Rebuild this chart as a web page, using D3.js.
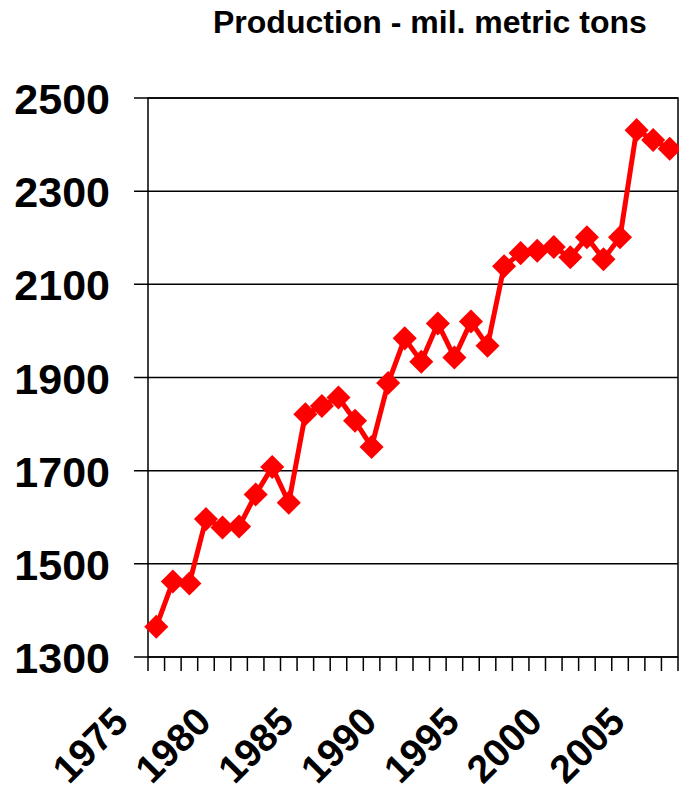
<!DOCTYPE html>
<html lang="en">
<head>
<meta charset="utf-8">
<title>Production - mil. metric tons</title>
<script type="text/javascript" src="https://cdnjs.cloudflare.com/ajax/libs/d3/7.8.5/d3.min.js"></script>
<style>
body { margin: 0; background: #fff; }
text { font-family: "Liberation Sans", Arial, sans-serif; font-weight: bold; fill: #000; }
.grid line { stroke: #000; stroke-width: 1.5; }
.frame { fill: none; stroke: #000; stroke-width: 1.5; }
</style>
</head>
<body>
<div id="chart"></div>
<script type="text/javascript">

var years = [1975, 1976, 1977, 1978, 1979, 1980, 1981, 1982, 1983, 1984,
             1985, 1986, 1987, 1988, 1989, 1990, 1991, 1992, 1993, 1994,
             1995, 1996, 1997, 1998, 1999, 2000, 2001, 2002, 2003, 2004,
             2005, 2006];

var production = [1365, 1462, 1458, 1596, 1578, 1580, 1649, 1708, 1631, 1821,
                  1839, 1857, 1807, 1751, 1888, 1984, 1934, 2016, 1943, 2020,
                  1968, 2139, 2167, 2172, 2180, 2158, 2201, 2154, 2201, 2431,
                  2410, 2391];

var yTicks = [1300, 1500, 1700, 1900, 2100, 2300, 2500];
var xLabels = [1975, 1980, 1985, 1990, 1995, 2000, 2005];

var title = "Production - mil. metric tons";

var width = 679, height = 797;
var plot = {left: 148, right: 678, top: 98, bottom: 657};

var svg = d3.select("#chart").append("svg")
    .attr("width", width)
    .attr("height", height);

var x = d3.scaleBand().domain(years).range([plot.left, plot.right]);
var y = d3.scaleLinear().domain([1300, 2500]).range([plot.bottom, plot.top]);

// gridlines + y ticks
var grid = svg.append("g").attr("class", "grid");
grid.selectAll(".h")
    .data(yTicks)
    .enter().append("line")
        .attr("x1", plot.left - 14)
        .attr("x2", plot.right)
        .attr("y1", d => y(d))
        .attr("y2", d => y(d));

// x ticks at category boundaries
var bounds = years.map(d => x(d)).concat([plot.right]);
grid.selectAll(".v")
    .data(bounds)
    .enter().append("line")
        .attr("x1", d => d)
        .attr("x2", d => d)
        .attr("y1", plot.bottom)
        .attr("y2", plot.bottom + 14);

// frame
svg.append("rect")
    .attr("class", "frame")
    .attr("x", plot.left)
    .attr("y", plot.top)
    .attr("width", plot.right - plot.left)
    .attr("height", plot.bottom - plot.top);

// y labels
svg.append("g").selectAll("text")
    .data(yTicks)
    .enter().append("text")
        .attr("x", 110)
        .attr("y", d => y(d) + 16)
        .style("font-size", "43px")
        .style("text-anchor", "end")
        .text(d => d);

// x labels, rotated
var bw = x.bandwidth();
svg.append("g").selectAll("text")
    .data(xLabels)
    .enter().append("text")
        .attr("transform", d => "translate(" + (x(d) + bw / 2 - 26) + "," + 724 + ") rotate(-45)")
        .style("font-size", "39px")
        .style("text-anchor", "end")
        .text(d => d);

// title
svg.append("text")
    .attr("x", 213)
    .attr("y", 33)
    .style("font-size", "32px")
    .text(title);

// series
var line = d3.line()
    .x((d, i) => x(years[i]) + bw / 2)
    .y(d => y(d));

svg.append("path")
    .datum(production)
    .attr("d", line)
    .attr("fill", "none")
    .attr("stroke", "#ff0000")
    .attr("stroke-width", 5)
    .attr("stroke-linejoin", "round");

var diamond = d3.symbol().type(d3.symbolSquare).size(17 * 17);

svg.append("g").selectAll("path")
    .data(production)
    .enter().append("path")
        .attr("d", diamond)
        .attr("transform", (d, i) => "translate(" + (x(years[i]) + bw / 2) + "," + y(d) + ") rotate(45)")
        .attr("fill", "#ff0000");

</script>
</body>
</html>
